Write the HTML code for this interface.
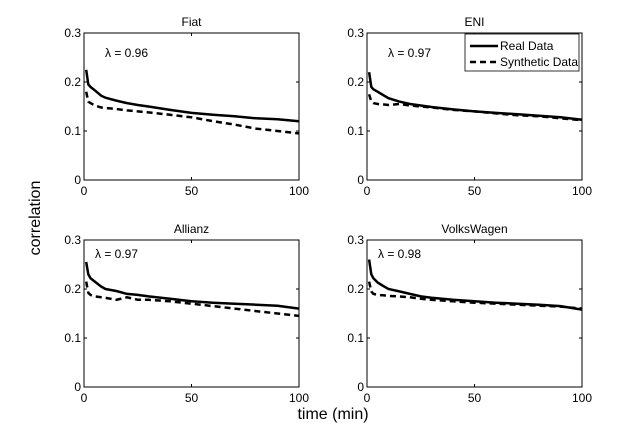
<!DOCTYPE html>
<html><head><meta charset="utf-8">
<style>
body{margin:0;background:#fff;width:643px;height:436px;overflow:hidden}
svg{font-family:"Liberation Sans",Arial,sans-serif}
</style></head>
<body>
<svg id="fig" width="643" height="436" viewBox="0 0 643 436">
<text x="40" y="218" font-size="16" text-anchor="middle" transform="rotate(-90 40 218)">correlation</text>
<text x="333" y="419" font-size="16" text-anchor="middle">time (min)</text>
</svg>
<script>
const times=[1,2,3,5,8,10,15,20,25,30,40,50,60,70,80,90,100];
const titles=["Fiat","ENI","Allianz","VolksWagen"];
const lambdas=["0.96","0.97","0.97","0.98"];
const realFiat=[0.225,0.195,0.19,0.183,0.172,0.168,0.162,0.157,0.153,0.150,0.143,0.137,0.133,0.130,0.126,0.124,0.120];
const synFiat=[0.18,0.16,0.157,0.152,0.148,0.147,0.145,0.142,0.14,0.138,0.133,0.128,0.12,0.113,0.105,0.1,0.095];
const realENI=[0.22,0.19,0.185,0.18,0.172,0.167,0.16,0.155,0.152,0.149,0.144,0.14,0.137,0.134,0.131,0.128,0.123];
const synENI=[0.175,0.16,0.157,0.155,0.154,0.153,0.155,0.152,0.15,0.148,0.143,0.14,0.136,0.132,0.13,0.126,0.122];
const realAllianz=[0.255,0.23,0.222,0.215,0.205,0.2,0.196,0.19,0.188,0.185,0.18,0.175,0.172,0.17,0.168,0.166,0.16];
const synAllianz=[0.215,0.192,0.188,0.185,0.183,0.182,0.178,0.183,0.178,0.178,0.175,0.17,0.165,0.16,0.155,0.15,0.145];
const realVW=[0.26,0.23,0.222,0.213,0.205,0.2,0.195,0.19,0.185,0.182,0.178,0.175,0.172,0.17,0.168,0.165,0.158];
const synVW=[0.215,0.195,0.19,0.188,0.187,0.186,0.185,0.183,0.18,0.178,0.175,0.172,0.17,0.168,0.166,0.164,0.16];
const realSeries=[realFiat,realENI,realAllianz,realVW];
const synSeries=[synFiat,synENI,synAllianz,synVW];
const xTicks=[0,50,100];
const yTicks=[0,0.1,0.2,0.3];
const yTickLabels=["0","0.1","0.2","0.3"];
const NS="http://www.w3.org/2000/svg";
const svg=document.getElementById("fig");
const panels=[{l:84,r:299,t:33,b:180},{l:367,r:582,t:33,b:180},{l:84,r:299,t:240,b:387},{l:367,r:582,t:240,b:387}];
function mk(tag,attrs,parent){const e=document.createElementNS(NS,tag);for(const k in attrs)e.setAttribute(k,attrs[k]);(parent||svg).appendChild(e);return e;}
panels.forEach((p,i)=>{
  const g=mk("g",{});
  
  
  const sx=v=>p.l+(v/100)*(p.r-p.l);
  const sy=v=>p.b-(v/0.3)*(p.b-p.t);
  const box=mk("rect",{x:p.l,y:p.t,width:p.r-p.l,height:p.b-p.t,fill:"none",stroke:"#000","stroke-width":1},g);
  
  
  const tt=mk("text",{x:(p.l+p.r)/2,y:p.t-7,"font-size":12,"text-anchor":"middle"},g);tt.textContent=titles[i];
  
  
  xTicks.forEach(v=>{
    mk("line",{x1:sx(v),x2:sx(v),y1:p.b,y2:p.b-3,stroke:"#000"},g);
    mk("line",{x1:sx(v),x2:sx(v),y1:p.t,y2:p.t+3,stroke:"#000"},g);
    const t=mk("text",{x:sx(v),y:p.b+15,"font-size":12,"text-anchor":"middle"},g);t.textContent=v;
    
    
  });
  yTicks.forEach((v,j)=>{
    mk("line",{x1:p.l,x2:p.l+3,y1:sy(v),y2:sy(v),stroke:"#000"},g);
    mk("line",{x1:p.r,x2:p.r-3,y1:sy(v),y2:sy(v),stroke:"#000"},g);
    const t=mk("text",{x:p.l-3,y:sy(v)+4,"font-size":12,"text-anchor":"end"},g);t.textContent=yTickLabels[j];
    
    
  });
  const pts=a=>a.map((v,k)=>sx(times[k]).toFixed(1)+","+sy(v).toFixed(1)).join(" ");
  const s=mk("polyline",{points:pts(synSeries[i]),fill:"none",stroke:"#000","stroke-width":2.5,"stroke-dasharray":"6,4"},g);
  
  
  const r=mk("polyline",{points:pts(realSeries[i]),fill:"none",stroke:"#000","stroke-width":2.5},g);
  
  
  const lt=mk("text",{x:p.l+(i>=2?11:21),y:p.t+(i>=2?18:24),"font-size":12},g);lt.textContent="λ = "+lambdas[i];
  
  
});
const lg=mk("g",{});


mk("rect",{x:465,y:34,width:114,height:37,fill:"#fff",stroke:"#000","stroke-width":0.8},lg);
mk("line",{x1:470,x2:498,y1:46,y2:46,stroke:"#000","stroke-width":2.5},lg);
mk("line",{x1:470,x2:498,y1:62,y2:62,stroke:"#000","stroke-width":2.5,"stroke-dasharray":"6,4"},lg);
const l1=mk("text",{x:500,y:50,"font-size":12},lg);l1.textContent="Real Data";


const l2=mk("text",{x:500,y:66,"font-size":12},lg);l2.textContent="Synthetic Data";


</script>
</body></html>
